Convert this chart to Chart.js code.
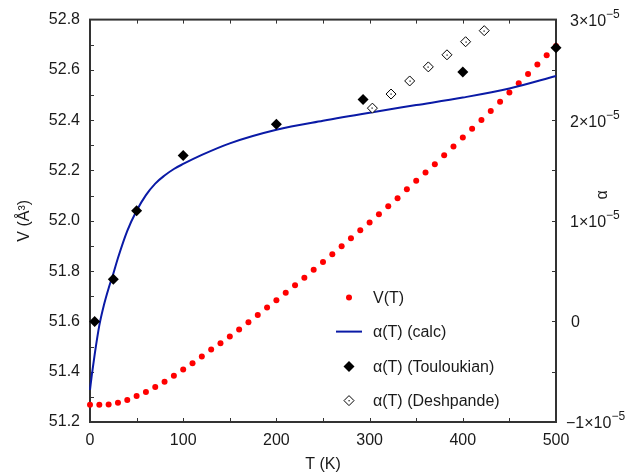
<!DOCTYPE html>
<html>
<head>
<meta charset="utf-8">
<script src="https://cdn.jsdelivr.net/npm/chart.js@4.4.0/dist/chart.umd.min.js"></script>
<style>
  html, body { margin: 0; padding: 0; background: #fff; }
  canvas { display: block; }
</style>
</head>
<body>
<canvas id="chart" width="641" height="472"></canvas>
<script>
// V(T) from calculation, T in K, V in A^3
const tempV = [0, 10, 20, 30, 40, 50, 60, 70, 80, 90, 100, 110, 120, 130, 140, 150, 160, 170, 180, 190,
  200, 210, 220, 230, 240, 250, 260, 270, 280, 290, 300, 310, 320, 330, 340, 350, 360, 370, 380, 390,
  400, 410, 420, 430, 440, 450, 460, 470, 480, 490, 500];
const volume = [51.269, 51.269, 51.270, 51.277, 51.287, 51.303, 51.319, 51.339, 51.360, 51.384,
  51.409, 51.434, 51.460, 51.488, 51.513, 51.540, 51.568, 51.597, 51.625, 51.655,
  51.684, 51.714, 51.744, 51.774, 51.805, 51.836, 51.867, 51.899, 51.931, 51.962,
  51.993, 52.026, 52.058, 52.090, 52.125, 52.159, 52.192, 52.225, 52.261, 52.295,
  52.331, 52.366, 52.401, 52.437, 52.473, 52.510, 52.547, 52.584, 52.621, 52.658, 52.695];

// alpha values in units of 1e-5
const tempCalc = [0, 2, 5, 10, 15, 20, 25, 30, 40, 50, 60, 70, 80, 90, 100, 120, 150, 200, 250, 300, 350, 400, 450, 500];
const alphaCalc = [-0.68, -0.53, -0.33, -0.04, 0.165, 0.33, 0.474, 0.63, 0.9, 1.1, 1.255, 1.37, 1.45, 1.515,
  1.565, 1.655, 1.77, 1.905, 1.995, 2.075, 2.15, 2.225, 2.315, 2.44];

const tempToul = [5, 25, 50, 100, 200, 293, 400, 500];
const alphaToul = [0.0, 0.42, 1.10, 1.65, 1.96, 2.205, 2.48, 2.72];

const tempDesh = [303, 323, 343, 363, 383, 403, 423];
const alphaDesh = [2.12, 2.26, 2.39, 2.53, 2.65, 2.78, 2.89];

const xLabels = [0, 100, 200, 300, 400, 500];
const vLabels = [51.2, 51.4, 51.6, 51.8, 52.0, 52.2, 52.4, 52.6, 52.8];
const alphaLabels = [-1, 0, 1, 2, 3];
const xMarks = [50, 100, 150, 200, 250, 300, 350, 400, 450];
const vMarks = [51.3, 51.4, 51.5, 51.6, 51.7, 51.8, 51.9, 52.0, 52.1, 52.2, 52.3, 52.4, 52.5, 52.6, 52.7];
const alphaMarks = [-0.5, 0, 0.5, 1, 1.5, 2, 2.5];

const legendNames = ['V(T)', 'α(T) (calc)', 'α(T) (Touloukian)', 'α(T) (Deshpande)'];

const FONT = "'Liberation Sans', Arial, sans-serif";
const INK = '#1a1a1a';
const FRAME = '#333333';
const BLUE = '#0a1aa6';

Chart.defaults.font.family = FONT;
Chart.defaults.font.size = 16;
Chart.defaults.color = INK;

const pts = (xs, ys) => xs.map((x, i) => ({ x: x, y: ys[i] }));

const line = (ctx, x1, y1, x2, y2) => {
  ctx.beginPath(); ctx.moveTo(x1, y1); ctx.lineTo(x2, y2); ctx.stroke();
};

const framePlugin = {
  id: 'frame',
  beforeDatasetsDraw(chart) {
    const { ctx, chartArea: a, scales: { x, y, y1 } } = chart;
    ctx.save();
    ctx.strokeStyle = FRAME;
    ctx.lineWidth = 1;
    xMarks.forEach(v => {
      const px = Math.round(x.getPixelForValue(v)) + 0.5;
      line(ctx, px, a.bottom, px, a.bottom - 4);
      line(ctx, px, a.top, px, a.top + 4);
    });
    vMarks.forEach(v => {
      const py = Math.round(y.getPixelForValue(v)) + 0.5;
      line(ctx, a.left, py, a.left + 4, py);
    });
    alphaMarks.forEach(v => {
      const py = Math.round(y1.getPixelForValue(v)) + 0.5;
      line(ctx, a.right, py, a.right - 4, py);
    });
    ctx.lineWidth = 2;
    ctx.strokeRect(a.left, a.top, a.right - a.left, a.bottom - a.top);
    ctx.restore();
  },
  afterDatasetsDraw(chart) {
    const { ctx, chartArea: a, scales: { y1 } } = chart;
    ctx.save();

    // dots in the open diamonds
    ctx.fillStyle = '#000';
    chart.getDatasetMeta(3).data.forEach(p => ctx.fillRect(Math.round(p.x) - 0.5, Math.round(p.y) - 0.5, 1.2, 1.2));

    // right axis labels with exponent
    ctx.fillStyle = INK;
    ctx.textBaseline = 'middle';
    ctx.textAlign = 'left';
    alphaLabels.forEach(v => {
      const py = y1.getPixelForValue(v);
      if (v === 0) {
        ctx.font = '16px ' + FONT;
        ctx.fillText('0', a.right + 15, py + 1);
        return;
      }
      const mant = (v < 0 ? '\u2212' + (-v) : String(v)) + '×10';
      const x0 = a.right + (v < 0 ? 10 : 14);
      ctx.font = '16px ' + FONT;
      ctx.fillText(mant, x0, py + 2);
      const w = ctx.measureText(mant).width;
      ctx.font = '12px ' + FONT;
      ctx.fillText('\u22125', x0 + w, py - 5);
    });

    // right axis title
    ctx.font = '16px ' + FONT;
    ctx.textAlign = 'center';
    ctx.translate(603, (a.top + a.bottom) / 2 - 26);
    ctx.rotate(-Math.PI / 2);
    ctx.fillText('α', 0, 0);
    ctx.setTransform(1, 0, 0, 1, 0, 0);

    // legend inside the plot
    const sx = a.left + 259, tx = a.left + 283;
    const rows = [278, 312, 347, 381].map(r => a.top + r);
    ctx.font = '16px ' + FONT;
    ctx.textAlign = 'left';
    legendNames.forEach((name, i) => ctx.fillText(name, tx, rows[i] + 1));

    ctx.fillStyle = '#ff0000';
    ctx.beginPath(); ctx.arc(sx, rows[0], 3, 0, Math.PI * 2); ctx.fill();

    ctx.strokeStyle = BLUE; ctx.lineWidth = 2;
    line(ctx, sx - 13, rows[1], sx + 13, rows[1]);

    ctx.fillStyle = '#000';
    ctx.beginPath();
    ctx.moveTo(sx - 5.5, rows[2]); ctx.lineTo(sx, rows[2] - 5.5);
    ctx.lineTo(sx + 5.5, rows[2]); ctx.lineTo(sx, rows[2] + 5.5);
    ctx.closePath(); ctx.fill();

    ctx.strokeStyle = '#000'; ctx.lineWidth = 1;
    ctx.beginPath();
    ctx.moveTo(sx - 5, rows[3]); ctx.lineTo(sx, rows[3] - 5);
    ctx.lineTo(sx + 5, rows[3]); ctx.lineTo(sx, rows[3] + 5);
    ctx.closePath(); ctx.stroke();
    ctx.fillRect(sx - 0.5, rows[3] - 0.5, 1.2, 1.2);

    ctx.restore();
  }
};

new Chart(document.getElementById('chart'), {
  type: 'scatter',
  data: {
    datasets: [
      {
        label: legendNames[2],
        data: pts(tempToul, alphaToul),
        yAxisID: 'y1',
        pointStyle: 'rectRot',
        pointRadius: 5.5,
        backgroundColor: '#000',
        borderColor: '#000',
        borderWidth: 0,
        clip: false,
        order: 0
      },
      {
        label: legendNames[1],
        data: pts(tempCalc, alphaCalc),
        yAxisID: 'y1',
        showLine: true,
        pointRadius: 0,
        borderColor: BLUE,
        borderWidth: 2,
        cubicInterpolationMode: 'monotone',
        clip: false,
        order: 2
      },
      {
        label: legendNames[0],
        data: pts(tempV, volume),
        yAxisID: 'y',
        pointStyle: 'circle',
        pointRadius: 3,
        backgroundColor: '#ff0000',
        borderWidth: 0,
        clip: false,
        order: 3
      },
      {
        label: legendNames[3],
        data: pts(tempDesh, alphaDesh),
        yAxisID: 'y1',
        pointStyle: 'rectRot',
        pointRadius: 5,
        backgroundColor: '#fff',
        borderColor: '#000',
        borderWidth: 1,
        clip: false,
        order: 1
      }
    ]
  },
  options: {
    responsive: false,
    animation: false,
    devicePixelRatio: 1,
    layout: { padding: { top: 19, left: 0, right: 0, bottom: 0 } },
    plugins: { legend: { display: false }, tooltip: { enabled: false } },
    scales: {
      x: {
        type: 'linear',
        min: 0,
        max: 500,
        grid: { display: false, drawTicks: false },
        border: { display: false },
        afterBuildTicks: s => { s.ticks = xLabels.map(v => ({ value: v })); },
        afterFit: s => { s.height = 50; },
        ticks: { padding: 9, maxRotation: 0, callback: v => String(v) },
        title: { display: true, text: 'T (K)', padding: { top: 0, bottom: -2 } }
      },
      y: {
        type: 'linear',
        position: 'left',
        min: 51.2,
        max: 52.8,
        grid: { display: false, drawTicks: false },
        border: { display: false },
        afterBuildTicks: s => { s.ticks = vLabels.map(v => ({ value: v })); },
        afterFit: s => { s.width = 90; },
        ticks: { padding: 10, callback: v => v.toFixed(1) },
        title: { display: true, text: 'V (Å³)', padding: { top: 15, bottom: 0 } }
      },
      y1: {
        type: 'linear',
        position: 'right',
        min: -1,
        max: 3,
        grid: { display: false, drawTicks: false },
        border: { display: false },
        afterBuildTicks: s => { s.ticks = alphaLabels.map(v => ({ value: v })); },
        afterFit: s => { s.width = 85; },
        ticks: { display: false }
      }
    }
  },
  plugins: [framePlugin]
});
</script>
</body>
</html>
